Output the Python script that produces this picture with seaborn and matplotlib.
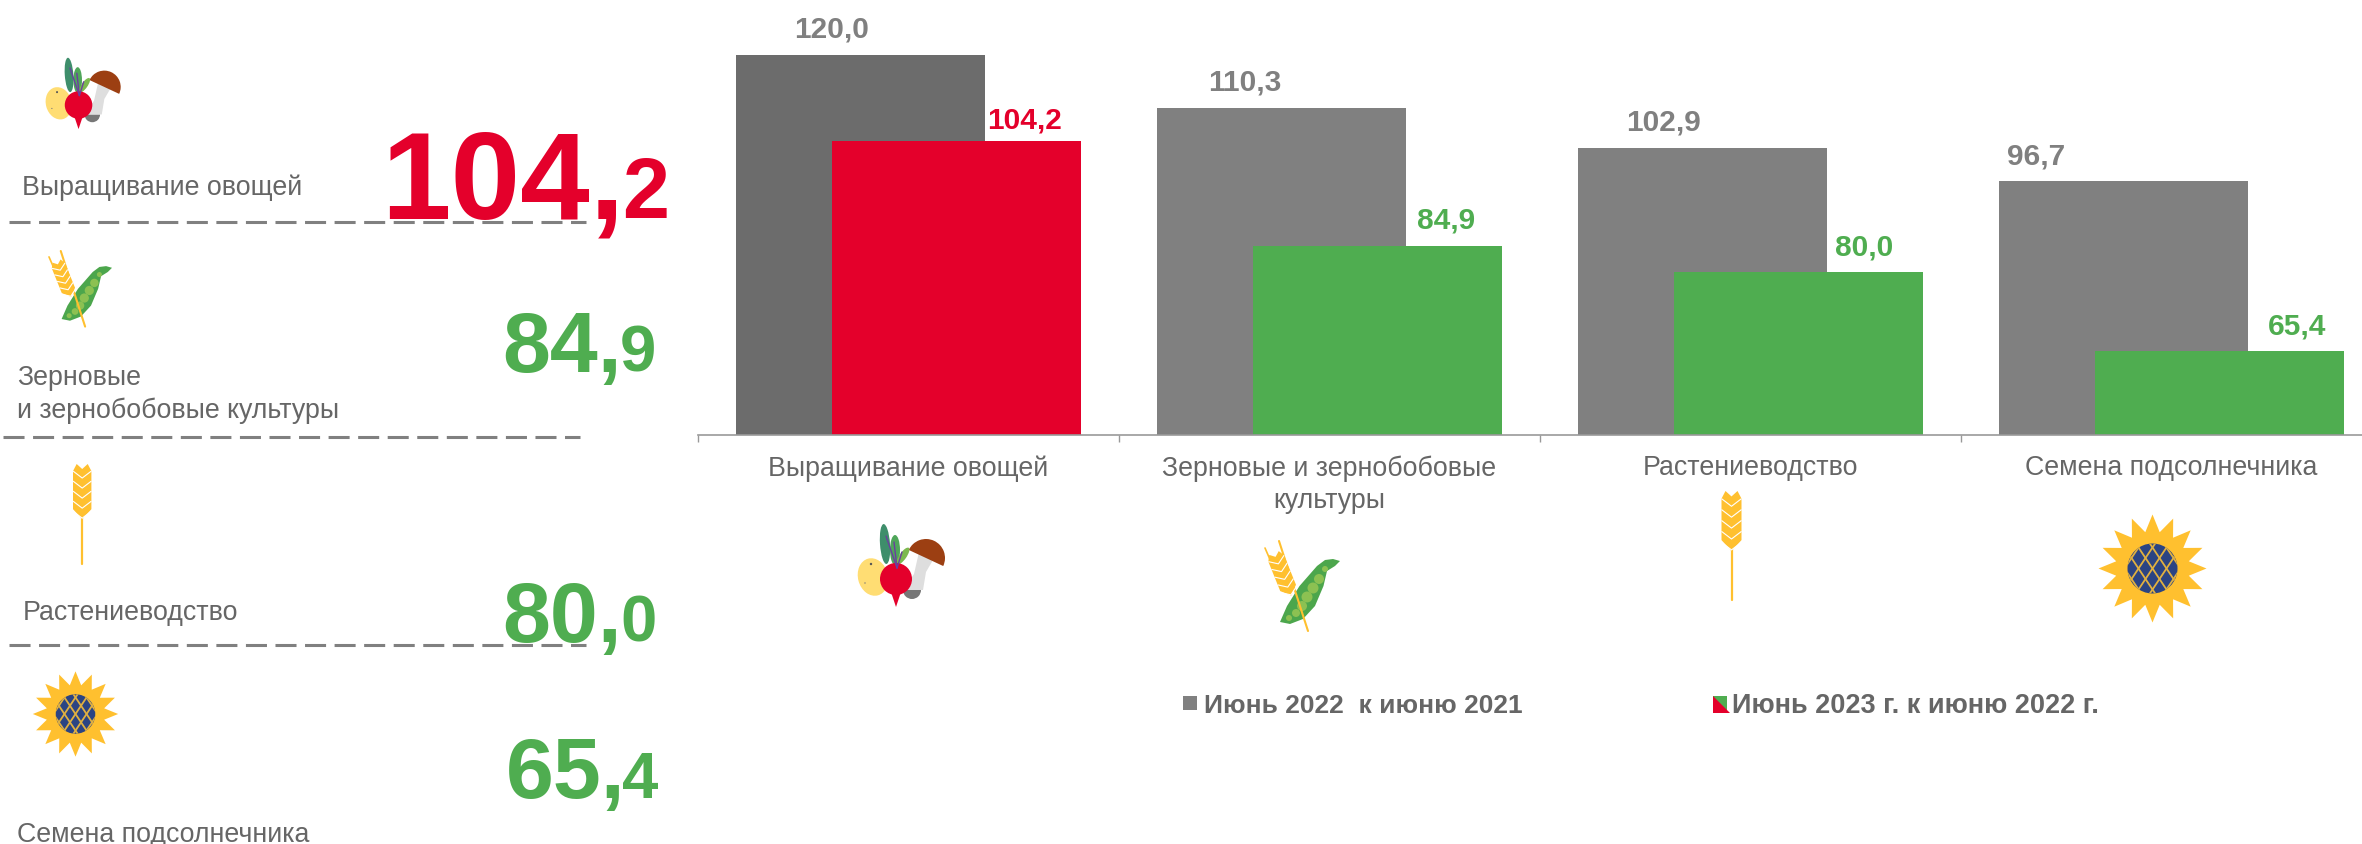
import numpy as np
import pandas as pd
import seaborn as sns
import matplotlib.pyplot as plt
from matplotlib.patches import Circle, Ellipse, Polygon, Rectangle, Wedge
from matplotlib.transforms import Affine2D

categories = ["Выращивание овощей", "Зерновые и зернобобовые\nкультуры", "Растениеводство", "Семена подсолнечника"]
left_names = ["Выращивание овощей", "Зерновые\nи зернобобовые культуры", "Растениеводство", "Семена подсолнечника"]
values_2022 = [120.0, 110.3, 102.9, 96.7]
values_2023 = [104.2, 84.9, 80.0, 65.4]
series_names = ["Июнь 2022  к июню 2021", "Июнь 2023 г. к июню 2022 г."]

GRAY = "#808080"
TEXT = "#666666"
RED = "#E4002B"
GREEN = "#4FAD50"
YELLOW = "#FFC02F"
W, H = 2362, 845

sns.set_style("white")
plt.rcParams["font.family"] = ["Liberation Sans", "DejaVu Sans"]

df = pd.DataFrame({
    "category": categories * 2,
    "value": values_2022 + values_2023,
    "period": [series_names[0]] * 4 + [series_names[1]] * 4,
})

fig = plt.figure(figsize=(W / 100, H / 100), dpi=100)
ax = fig.add_axes([698 / W, (H - 436) / H, 1684 / W, 436 / H])

sns.barplot(data=df, x="category", y="value", hue="period", hue_order=series_names,
            palette=[GRAY, GREEN], width=0.456, gap=-1.594, saturation=1, legend=False,
            linewidth=0, edgecolor="none", ax=ax)

ax.set_xlim(-0.5, 3.5)
ax.set_ylim(50, 130.3)
ax.set_xlabel("")
ax.set_ylabel("")
ax.patch.set_alpha(0)
ax.set_yticks([])
for side in ["top", "left", "right"]:
    ax.spines[side].set_visible(False)
ax.spines["bottom"].set_color("#999999")
ax.spines["bottom"].set_linewidth(1.2)
ax.tick_params(axis="x", which="major", length=0, pad=14, labelsize=19.3, labelcolor=TEXT)
plt.setp(ax.get_xticklabels(), linespacing=1.3)
ax.set_xticks(np.arange(-0.5, 4), minor=True)
ax.tick_params(axis="x", which="minor", bottom=True, length=5, width=1, color="#999999")

old_bars, new_bars = ax.containers[0], ax.containers[1]
old_bars[0].set_facecolor("#6C6C6C")
new_bars[0].set_facecolor(RED)

old_dx = [-29, -37, -39, -87]
new_dx = [68, 69, 66, 78]
new_colors = [RED, GREEN, GREEN, GREEN]
new_dy = [13, 18, 18, 18]
for i in range(4):
    b = old_bars[i]
    ax.annotate(f"{values_2022[i]:.1f}".replace(".", ","), (b.get_x() + b.get_width() / 2, b.get_height()),
                xytext=(old_dx[i] * 0.72, 18 * 0.72), textcoords="offset points", ha="center", va="baseline",
                fontsize=21.5, fontweight="bold", color=GRAY)
    b = new_bars[i]
    ax.annotate(f"{values_2023[i]:.1f}".replace(".", ","), (b.get_x() + b.get_width() / 2, b.get_height()),
                xytext=(new_dx[i] * 0.72, new_dy[i] * 0.72), textcoords="offset points", ha="center", va="baseline",
                fontsize=21.5, fontweight="bold", color=new_colors[i])

# overlay in reference pixels for the left panel, icons and legend
ov = fig.add_axes([0, 0, 1, 1])
ov.set_xlim(0, W)
ov.set_ylim(H, 0)
ov.axis("off")


def local(x, y, s):
    return Affine2D().scale(s).translate(x, y) + ov.transData


def draw_ear(tr, cx, top, length, width, angle=0):
    tr2 = Affine2D().rotate_deg_around(cx, top, angle) + tr
    n = 5
    step = length / (n + 0.5)
    outline = [(cx, top + step * 0.5), (cx + width * 0.3, top)]
    outline += [(cx + width / 2, top + step * 0.7), (cx + width / 2, top + length - step),
                (cx, top + length), (cx - width / 2, top + length - step),
                (cx - width / 2, top + step * 0.7), (cx - width * 0.3, top)]
    ov.add_patch(Polygon(outline, closed=True, fc=YELLOW, ec="none", transform=tr2))
    for k in range(n):
        y = top + step * (k + 0.7)
        ov.plot([cx - width / 2, cx, cx + width / 2], [y, y + step * 0.7, y], color="white", lw=0.8,
                transform=tr2, solid_capstyle="butt")


def veg_icon(x, y, s):
    tr = local(x, y, s)
    ov.add_patch(Ellipse((16, 55), 30, 38, angle=-15, fc="#FFDD73", ec="none", transform=tr))
    ov.add_patch(Circle((14, 42), 1.2, fc="#555555", ec="none", transform=tr))
    ov.add_patch(Circle((8, 61), 0.7, fc="#777777", ec="none", transform=tr))
    ov.add_patch(Wedge((55, 68), 9, 0, 180, fc="#777777", ec="none", transform=tr))
    ov.add_patch(Polygon([(62, 30), (76, 38), (69, 50), (66, 68), (46, 68), (57, 52)], closed=True,
                         fc="#DEDEDE", ec="none", transform=tr))
    ov.add_patch(Wedge((69, 36), 19, 205, 385, fc="#9C3F12", ec="none", transform=tr))
    ov.add_patch(Ellipse((28, 22), 10, 40, angle=-4, fc="#3E8E6B", ec="none", transform=tr))
    ov.add_patch(Ellipse((38, 28), 10, 30, angle=0, fc="#4FA65A", ec="none", transform=tr))
    ov.add_patch(Ellipse((46, 34), 7, 20, angle=35, fc="#7DB94F", ec="none", transform=tr))
    for tx, ty in [(29, 14), (37, 20), (45, 30)]:
        ov.plot([40, tx], [46, ty], color="#6B3FA0", lw=1, transform=tr)
    ov.add_patch(Polygon([(33, 67), (45, 67), (39, 85)], closed=True, fc=RED, ec="none", transform=tr))
    ov.add_patch(Circle((39, 57), 16, fc=RED, ec="none", transform=tr))


def grain_pea_icon(x, y, s):
    tr = local(x, y, s)
    ov.plot([14, 43], [0, 90], color=YELLOW, lw=1.5, transform=tr)
    ov.plot([0, 10], [7, 30], color=YELLOW, lw=1.2, transform=tr)
    draw_ear(tr, 9, 12, 46, 17, angle=-22)
    pod = [(60, 19), (52, 25), (34.5, 45), (22, 65), (15, 81), (25, 83), (38, 78), (50, 65), (58.5, 45),
           (62, 30), (70, 25), (75, 20), (68, 18)]
    ov.add_patch(Polygon(pod, closed=True, fc="#4CA64C", ec="none", transform=tr))
    peas = [(60, 28, 3), (54, 38, 5), (48, 47, 5.5), (42, 56, 5.5), (37, 65, 5), (31, 72, 4), (24, 77, 3)]
    for px, py, r in peas:
        ov.add_patch(Circle((px, py), r, fc="#8CC152", ec="none", transform=tr))


def wheat_icon(x, y, s):
    tr = local(x, y, s)
    ov.plot([10, 10], [55, 109], color=YELLOW, lw=1.6, transform=tr)
    draw_ear(tr, 10, 0, 60, 20)


def sunflower_icon(cx, cy, s):
    tr = local(cx, cy, s)
    n = 16
    ang = np.linspace(0, 2 * np.pi, 2 * n, endpoint=False) - np.pi / 2
    rad = np.where(np.arange(2 * n) % 2 == 0, 54, 37)
    ov.add_patch(Polygon(np.c_[rad * np.cos(ang), rad * np.sin(ang)], closed=True, fc=YELLOW, ec="none", transform=tr))
    core = Ellipse((0, 0), 50, 50, fc="#2B4483", ec="none", transform=tr)
    ov.add_patch(core)
    for d in np.arange(-56, 57, 14):
        for sign in [1, -1]:
            ln, = ov.plot([d - 30, d + 30], [sign * -45, sign * 45], color="#E0B040", lw=1.3, transform=tr)
            ln.set_clip_path(core)


# left panel
name_xy = [(22, 195), (17, 418), (23, 620), (17, 842)]
whole_xy = [(381, 218), (502, 372), (502, 642), (506, 798)]
frac_x = [622, 620, 620, 622]
whole_size = [90, 62, 62, 62]
frac_size = [61, 47, 47, 47]
colors = [RED, GREEN, GREEN, GREEN]
for i in range(4):
    ov.text(name_xy[i][0], name_xy[i][1], left_names[i], fontsize=19.3, color=TEXT, ha="left", va="baseline",
            linespacing=1.32)
    whole, frac = f"{values_2023[i]:.1f}".split(".")
    ov.text(whole_xy[i][0], whole_xy[i][1], whole + ",", fontsize=whole_size[i], fontweight="bold", color=colors[i],
            ha="left", va="baseline")
    ov.text(frac_x[i], whole_xy[i][1], frac, fontsize=frac_size[i], fontweight="bold", color=colors[i],
            ha="left", va="baseline")

for y, x0, x1 in [(223, 9, 586), (438, 3, 580), (646, 9, 586)]:
    ov.plot([x0, x1], [y, y], color=GRAY, lw=2.2, linestyle=(0, (21 / 3.05, 8.5 / 3.05)), solid_capstyle="butt",
            dash_capstyle="butt")

# icons, left then under the chart
veg_icon(45, 57, 0.86)
grain_pea_icon(49, 252, 0.84)
wheat_icon(73, 465, 0.92)
sunflower_icon(75.5, 715, 0.79)
veg_icon(857, 523, 1)
grain_pea_icon(1265, 542, 1)
wheat_icon(1721.5, 492, 1)
sunflower_icon(2152.5, 569.5, 1)

# legend
ov.add_patch(Rectangle((1183, 697), 14, 14, fc=GRAY, ec="none"))
ov.text(1204, 713, series_names[0], fontsize=19, fontweight="bold", color=TEXT, ha="left", va="baseline")
ov.add_patch(Rectangle((1713, 697), 14, 14, fc=GREEN, ec="none"))
ov.add_patch(Polygon([(1713, 697), (1730, 714), (1713, 714)], closed=True, fc=RED, ec="none"))
ov.text(1732, 713, series_names[1], fontsize=19.5, fontweight="bold", color=TEXT, ha="left", va="baseline")

fig.savefig("out.png", dpi=100)
